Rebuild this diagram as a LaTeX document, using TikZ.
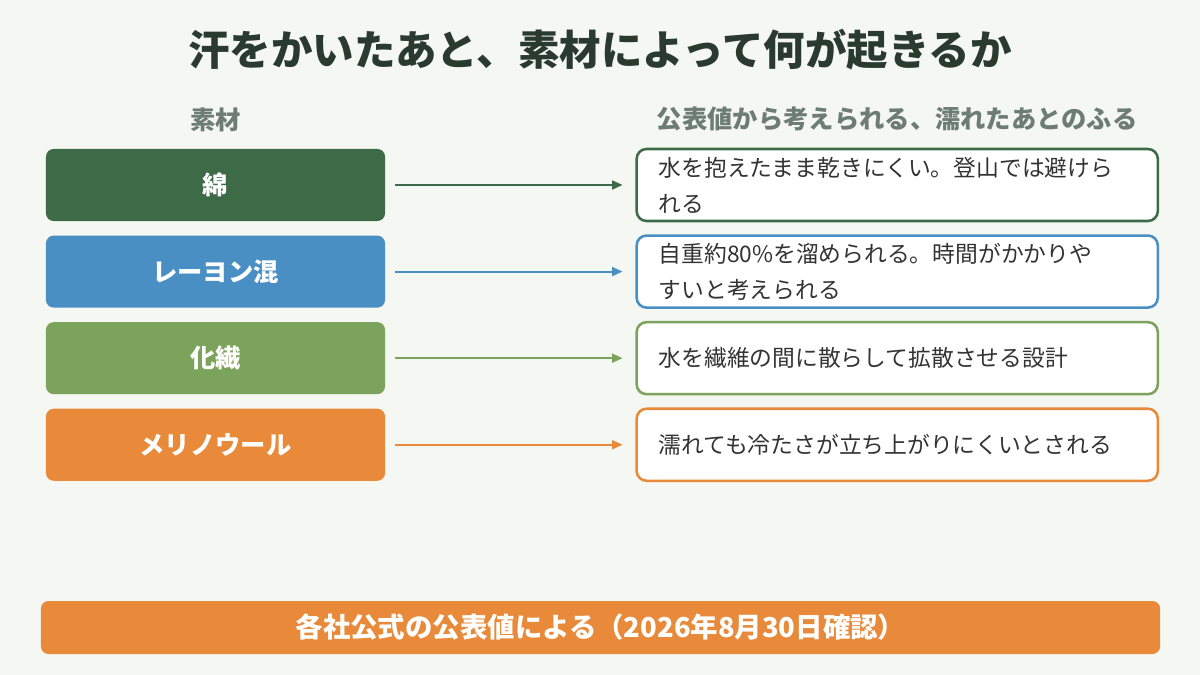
\documentclass[tikz,border=0pt]{standalone}
\usepackage{fontspec}
\setmainfont{Noto Sans CJK JP}
\usepackage{xcolor}
\definecolor{bgpage}{HTML}{F4F7F2}
\definecolor{titleink}{HTML}{2A3A2E}
\definecolor{headink}{HTML}{6E7D72}
\definecolor{bodyink}{HTML}{333333}
\definecolor{cottongreen}{HTML}{3D6B47}
\definecolor{rayonblue}{HTML}{4A8FC4}
\definecolor{synthgreen}{HTML}{7BA35C}
\definecolor{merinoorange}{HTML}{E88A3A}
\usetikzlibrary{arrows.meta,positioning,calc}

\begin{document}
\begin{tikzpicture}[x=0.025cm, y=-0.025cm,
  fab/.style={rounded corners=5.5pt, minimum width=8.475cm, minimum height=1.8cm,
    inner sep=0pt, text=white, font=\fontsize{18}{22}\selectfont\bfseries},
  desc/.style={rounded corners=7pt, fill=white, line width=1.8pt,
    minimum width=13.025cm, minimum height=1.8cm, text width=11.925cm,
    align=left, inner xsep=0.55cm, inner ysep=0pt, text=bodyink,
    font=\fontsize{16.2}{25.6}\selectfont},
  head/.style={inner sep=0pt, text=headink, font=\fontsize{18}{21}\selectfont\bfseries},
  link/.style={-{Triangle[length=2.6mm, width=2.2mm]}, line width=1.4pt,
    shorten <=0.25cm, shorten >=0.32cm}]

  \fill[bgpage] (0,0) rectangle (1200,675);
  \useasboundingbox (0,0) rectangle (1200,675);

  \node[text=titleink, font=\fontsize{29.5}{33}\selectfont\bfseries] (title) at (600,50)
    {汗をかいたあと、素材によって何が起きるか};

  % Colonne gauche : les matières
  \node[fab, fill=cottongreen] (cotton) at (215.5,185) {綿};
  \node[fab, fill=rayonblue, below=0.35cm of cotton] (rayon) {レーヨン混};
  \node[fab, fill=synthgreen, below=0.35cm of rayon] (synth) {化繊};
  \node[fab, fill=merinoorange, below=0.35cm of synth] (merino) {メリノウール};

  % Colonne droite : ce qui se passe une fois mouillé
  \node[desc, draw=cottongreen, right=6.25cm of cotton] (dcotton)
    {水を抱えたまま乾きにくい。登山では避けら\\れる};
  \node[desc, draw=rayonblue, right=6.25cm of rayon] (drayon)
    {自重約80\%を溜められる。時間がかかりや\\すいと考えられる};
  \node[desc, draw=synthgreen, right=6.25cm of synth] (dsynth)
    {水を繊維の間に散らして拡散させる設計};
  \node[desc, draw=merinoorange, right=6.25cm of merino] (dmerino)
    {濡れても冷たさが立ち上がりにくいとされる};

  \node[head, above=0.42cm of cotton] (headfab) {素材};
  \node[head, above=0.42cm of dcotton] (headdesc) {公表値から考えられる、濡れたあとのふる};

  \foreach \a/\b/\c in {cotton/dcotton/cottongreen, rayon/drayon/rayonblue,
      synth/dsynth/synthgreen, merino/dmerino/merinoorange}
    \draw[link, \c] (\a) -- (\b);

  \node[fill=merinoorange, rounded corners=5.5pt, minimum width=27.975cm,
    minimum height=1.325cm, inner sep=0pt, text=white,
    font=\fontsize{19.5}{23}\selectfont\bfseries] (source) at (600.5,627.5)
    {各社公式の公表値による（2026年8月30日確認）};
\end{tikzpicture}
\end{document}
